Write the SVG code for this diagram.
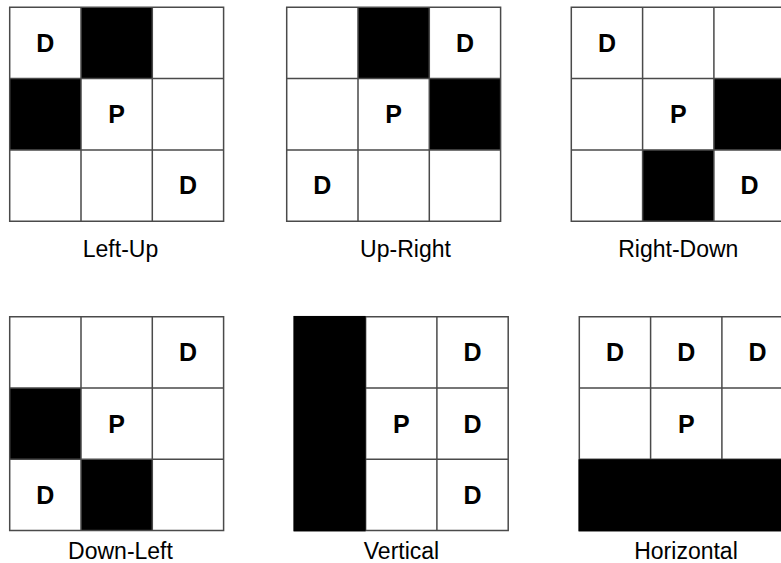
<svg xmlns="http://www.w3.org/2000/svg" width="781" height="563" viewBox="0 0 781 563">
<defs>
<style>
.bg{fill:#fff}
.blk{fill:#000}
.grid{fill:none;stroke:#4a4a4a;stroke-width:1.5}
.lt{font-family:"Liberation Sans",Arial,sans-serif;font-weight:bold;font-size:25px;text-anchor:middle;fill:#000}
.lbl{font-family:"Liberation Sans",Arial,sans-serif;font-size:23px;text-anchor:middle;fill:#000}
</style>
<path id="lines" class="grid" d="M0 0H213.9V213.9H0Z M71.3 0V213.9 M142.6 0V213.9 M0 71.3H213.9 M0 142.6H213.9"/>
</defs>
<rect width="781" height="563" fill="#fff"/>

<g id="left-up" transform="translate(9.7,7.3)">
<rect class="bg" width="213.9" height="213.9"/>
<rect class="blk" x="71.3" y="0" width="71.3" height="71.3"/>
<rect class="blk" x="0" y="71.3" width="71.3" height="71.3"/>
<use href="#lines"/>
<text class="lt" x="35.65" y="44.6">D</text>
<text class="lt" x="106.95" y="115.9">P</text>
<text class="lt" x="178.25" y="187.2">D</text>
</g>
<text class="lbl" x="120.5" y="257">Left-Up</text>

<g id="up-right" transform="translate(286.7,7.3)">
<rect class="bg" width="213.9" height="213.9"/>
<rect class="blk" x="71.3" y="0" width="71.3" height="71.3"/>
<rect class="blk" x="142.6" y="71.3" width="71.3" height="71.3"/>
<use href="#lines"/>
<text class="lt" x="178.25" y="44.6">D</text>
<text class="lt" x="106.95" y="115.9">P</text>
<text class="lt" x="35.65" y="187.2">D</text>
</g>
<text class="lbl" x="405.5" y="257">Up-Right</text>

<g id="right-down" transform="translate(571.3,7.3)">
<rect class="bg" width="213.9" height="213.9"/>
<rect class="blk" x="142.6" y="71.3" width="71.3" height="71.3"/>
<rect class="blk" x="71.3" y="142.6" width="71.3" height="71.3"/>
<use href="#lines"/>
<text class="lt" x="35.65" y="44.6">D</text>
<text class="lt" x="106.95" y="115.9">P</text>
<text class="lt" x="178.25" y="187.2">D</text>
</g>
<text class="lbl" x="678.3" y="257">Right-Down</text>

<g id="down-left" transform="translate(9.7,316.7)">
<rect class="bg" width="213.9" height="213.9"/>
<rect class="blk" x="0" y="71.3" width="71.3" height="71.3"/>
<rect class="blk" x="71.3" y="142.6" width="71.3" height="71.3"/>
<use href="#lines"/>
<text class="lt" x="178.25" y="44.6">D</text>
<text class="lt" x="106.95" y="115.9">P</text>
<text class="lt" x="35.65" y="187.2">D</text>
</g>
<text class="lbl" x="120.5" y="559">Down-Left</text>

<g id="vertical" transform="translate(294.3,316.7)">
<rect class="bg" width="213.9" height="213.9"/>
<use href="#lines"/>
<rect class="blk" x="-0.75" y="-0.75" width="72.05" height="215.4"/>
<text class="lt" x="178.25" y="44.6">D</text>
<text class="lt" x="106.95" y="115.9">P</text>
<text class="lt" x="178.25" y="115.9">D</text>
<text class="lt" x="178.25" y="187.2">D</text>
</g>
<text class="lbl" x="401.5" y="559">Vertical</text>

<g id="horizontal" transform="translate(579.3,316.7)">
<rect class="bg" width="213.9" height="213.9"/>
<use href="#lines"/>
<rect class="blk" x="-0.75" y="142.6" width="215.4" height="72.05"/>
<text class="lt" x="35.65" y="44.6">D</text>
<text class="lt" x="106.95" y="44.6">D</text>
<text class="lt" x="178.25" y="44.6">D</text>
<text class="lt" x="106.95" y="115.9">P</text>
</g>
<text class="lbl" x="686" y="559">Horizontal</text>
</svg>
